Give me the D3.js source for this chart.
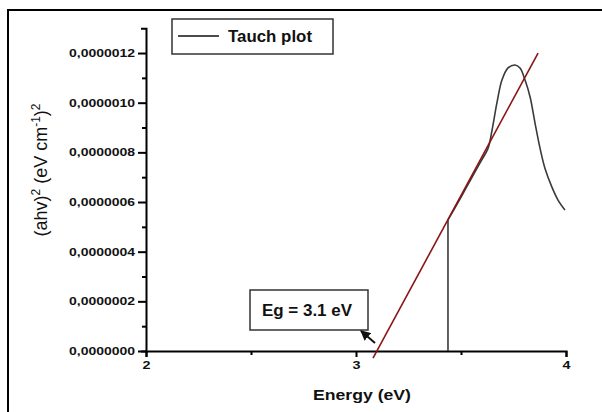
<!DOCTYPE html>
<html>
<head>
<meta charset="utf-8">
<script src="https://cdn.jsdelivr.net/npm/d3@7"></script>
<style>
  body { margin: 0; background: #fff; }
  svg { display: block; }
  text { font-family: "Liberation Sans", Arial, sans-serif; fill: #111; }
</style>
</head>
<body>
<svg id="chart" width="602" height="412"></svg>
<script>
// Datos de la curva de Tauc (energía en eV, (ahv)^2)
var energia = [3.438, 3.438, 3.495, 3.543, 3.590, 3.629, 3.648, 3.671, 3.695, 3.724, 3.757, 3.781, 3.805, 3.829, 3.852, 3.876, 3.900, 3.933, 3.962, 3.995];
var tauc = [0, 0.528e-6, 0.612e-6, 0.685e-6, 0.757e-6, 0.817e-6, 0.890e-6, 0.999e-6, 1.091e-6, 1.140e-6, 1.152e-6, 1.140e-6, 1.091e-6, 1.023e-6, 0.920e-6, 0.818e-6, 0.735e-6, 0.660e-6, 0.608e-6, 0.568e-6];

// Recta de ajuste (extrapolación hasta Eg)
var ajusteX = [3.081, 3.867];
var ajusteY = [-0.029e-6, 1.2e-6];

// Ticks
var xTicks = [2, 3, 4];
var xMinor = [2.5, 3.5];
var yTicks = [0, 0.2e-6, 0.4e-6, 0.6e-6, 0.8e-6, 1.0e-6, 1.2e-6];
var yMinor = [0.1e-6, 0.3e-6, 0.5e-6, 0.7e-6, 0.9e-6, 1.1e-6];

var svg = d3.select("#chart");

// Marco exterior
svg.append("rect")
    .attr("x", 8).attr("y", 10)
    .attr("width", 600).attr("height", 410)
    .attr("fill", "none").attr("stroke", "#000").attr("stroke-width", 2);

var x = d3.scaleLinear().domain([2, 4]).range([146, 566]);
var y = d3.scaleLinear().domain([0, 1.3e-6]).range([351, 28.2]);

var fmt = function(d) { return d3.format(".7f")(d).replace(".", ","); };

// Eje Y
var gy = svg.append("g").attr("transform", "translate(146,0)")
    .call(d3.axisLeft(y).tickValues(yTicks).tickFormat(fmt).tickSize(8).tickSizeOuter(5).tickPadding(3));
gy.select(".domain").attr("stroke-width", 2);
gy.selectAll(".tick line").attr("stroke-width", 2);
gy.selectAll(".tick text")
    .attr("font-size", 11).attr("font-weight", "bold")
    .attr("textLength", 66).attr("lengthAdjust", "spacingAndGlyphs");
svg.append("g").attr("transform", "translate(146,0)")
    .call(d3.axisLeft(y).tickValues(yMinor).tickFormat("").tickSize(4).tickSizeOuter(0))
    .call(g => g.select(".domain").remove())
    .selectAll(".tick line").attr("stroke-width", 2);

// Eje X
var gx = svg.append("g").attr("transform", "translate(0,351)")
    .call(d3.axisBottom(x).tickValues(xTicks).tickFormat(d3.format("d")).tickSize(6).tickSizeOuter(6).tickPadding(4));
gx.select(".domain").attr("stroke-width", 2);
gx.selectAll(".tick line").attr("stroke-width", 2);
gx.selectAll(".tick text")
    .attr("font-size", 11).attr("font-weight", "bold")
    .attr("textLength", 8).attr("lengthAdjust", "spacingAndGlyphs");
svg.append("g").attr("transform", "translate(0,351)")
    .call(d3.axisBottom(x).tickValues(xMinor).tickFormat("").tickSize(4).tickSizeOuter(0))
    .call(g => g.select(".domain").remove())
    .selectAll(".tick line").attr("stroke-width", 2);

// Curva: tramo vertical recto y luego suavizado
var puntos = energia.map((e, i) => [e, tauc[i]]);
var linea = d3.line()
    .x(d => x(d[0])).y(d => y(d[1]))
    .curve(d3.curveCatmullRom.alpha(0.5));
var suave = linea(puntos.slice(1));
svg.append("path")
    .attr("d", "M" + x(puntos[0][0]) + "," + y(puntos[0][1]) + "L" + suave.slice(1))
    .attr("fill", "none").attr("stroke", "#3a3a3a").attr("stroke-width", 1.6);

// Recta de ajuste
svg.append("line")
    .attr("x1", x(ajusteX[0])).attr("y1", y(ajusteY[0]))
    .attr("x2", x(ajusteX[1])).attr("y2", y(ajusteY[1]))
    .attr("stroke", "#8b1414").attr("stroke-width", 1.6);

// Leyenda
svg.append("rect").attr("x", 172).attr("y", 19).attr("width", 161).attr("height", 35)
    .attr("fill", "#fff").attr("stroke", "#333").attr("stroke-width", 1.5);
svg.append("line").attr("x1", 178).attr("x2", 219).attr("y1", 36).attr("y2", 36)
    .attr("stroke", "#111").attr("stroke-width", 1.6);
svg.append("text").attr("x", 228).attr("y", 42)
    .attr("font-size", 16).attr("font-weight", "bold")
    .attr("textLength", 84).attr("lengthAdjust", "spacingAndGlyphs")
    .text("Tauch plot");

// Anotación Eg
svg.append("rect").attr("x", 250).attr("y", 290).attr("width", 118).attr("height", 40)
    .attr("fill", "#fff").attr("stroke", "#333").attr("stroke-width", 1.5);
svg.append("text").attr("x", 262).attr("y", 316)
    .attr("font-family", "Lato, sans-serif")
    .attr("font-size", 16).attr("font-weight", "bold")
    .attr("textLength", 90).attr("lengthAdjust", "spacingAndGlyphs")
    .text("Eg = 3.1 eV");

svg.append("defs").append("marker")
    .attr("id", "flecha").attr("viewBox", "0 0 10 10")
    .attr("refX", 9).attr("refY", 5)
    .attr("markerWidth", 5).attr("markerHeight", 5)
    .attr("orient", "auto")
    .append("path").attr("d", "M0,0L10,5L0,10z").attr("fill", "#111");
svg.append("line")
    .attr("x1", 375).attr("y1", 343).attr("x2", 361).attr("y2", 331)
    .attr("stroke", "#111").attr("stroke-width", 2)
    .attr("marker-end", "url(#flecha)");

// Títulos de ejes
svg.append("text").attr("x", 362).attr("y", 400)
    .attr("text-anchor", "middle")
    .attr("font-size", 15).attr("font-weight", "bold")
    .attr("textLength", 98).attr("lengthAdjust", "spacingAndGlyphs")
    .text("Energy (eV)");

var yl = svg.append("text")
    .attr("transform", "translate(47,170) rotate(-90)")
    .attr("text-anchor", "middle")
    .attr("font-size", 18);
yl.append("tspan").text("(ahv)");
yl.append("tspan").attr("dy", -7).attr("font-size", 12).text("2");
yl.append("tspan").attr("dy", 7).text(" (eV cm");
yl.append("tspan").attr("dy", -7).attr("font-size", 12).text("-1");
yl.append("tspan").attr("dy", 7).text(")");
yl.append("tspan").attr("dy", -7).attr("font-size", 12).text("2");
</script>
</body>
</html>
